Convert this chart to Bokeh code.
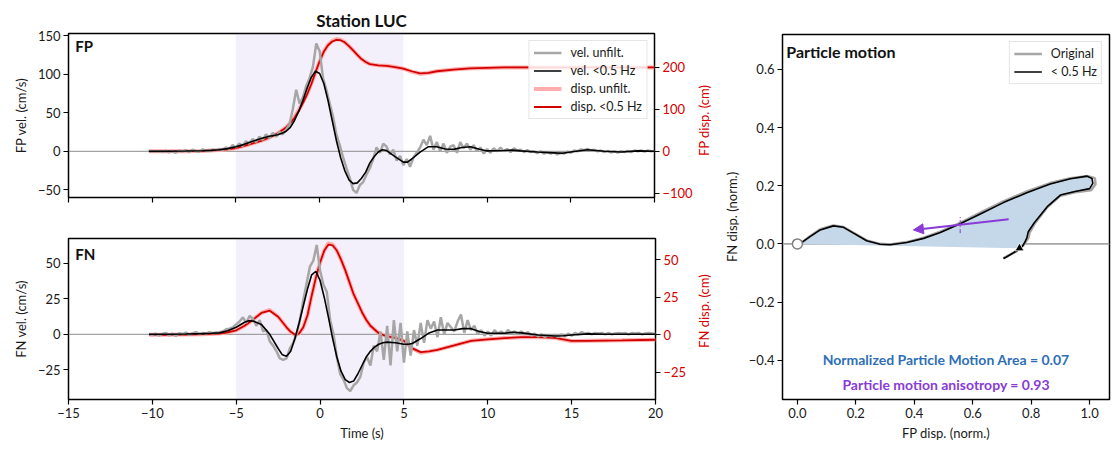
import numpy as np
from bokeh.plotting import figure
from bokeh.models import (Range1d, LinearAxis, FixedTicker, CustomJSTickFormatter,
                          BoxAnnotation, Span, Label, Legend, LegendItem, Arrow, NormalHead)
from bokeh.layouts import row, column
from bokeh.embed import file_html
from bokeh.resources import INLINE

FONT = "Lato"
RED = "#d40000"
PINK = "#ffadad"
GRAY = "#a6a6a6"
PURPLE = "#8a3bd6"
BLUE = "#2f6fb6"

# ---------------- data ----------------
# filtered velocity (<0.5 Hz)
vel_t = [-10.2, -9, -8, -7, -6.5, -6, -5.5, -5, -4.5, -4.25, -4, -3.5, -3, -2.5, -2.25, -2,
         -1.75, -1.5, -1.25, -1, -0.75, -0.5, -0.25, 0, 0.25, 0.5, 0.75, 1, 1.25, 1.5, 1.75, 2,
         2.25, 2.5, 2.75, 3, 3.25, 3.5, 3.75, 4, 4.5, 5, 5.25, 5.5, 6, 6.5, 7, 7.5, 8,
         8.5, 9, 9.5, 10, 11, 11.5, 12, 13, 14, 14.5, 15, 16, 17, 18, 19, 20]
fp_vel = [0, 0, 0.3, 0.8, 1.2, 2, 3.5, 6, 9, 11, 13, 16.5, 19.5, 21.5, 23.5, 26,
          31, 40, 52, 66, 82, 96, 104, 101, 88, 66, 40, 14, -8, -25, -37, -42,
          -41, -35, -27, -15, -7, -1, 2, 1, -7, -14, -14, -10, -1, 6, 6, 3, 2.5,
          5, 6, 3, 0.5, 1, 1.5, 0.5, -1, -2, -2.5, -1, 2, 0, -1, 0.5, 0]
fn_vel = [0, 0, 0.2, 0.5, 0.7, 1, 2.5, 5, 8.5, 9.5, 9.4, 7, 0, -10, -14.5, -15.5,
          -12, -3, 8, 20, 32, 42, 44.5, 38, 26, 12, -3, -16, -26, -32, -34, -33,
          -28, -22, -16, -12, -9, -7, -6, -5.5, -6, -7, -7, -6.5, -3, 1, 3, 3, 3,
          4, 4, 2, 0.7, 0.7, 1.4, 1, -0.5, -1.2, -1, -0.5, 0.3, 0, 0, 0, 0]

# unfiltered velocity, sampled every 0.2 s from -10.2 s to 20 s
raw_t0, raw_dt, raw_n = -10.2, 0.2, 152
fp_vel_raw = [0, 0.5, -0.5, 0.3, -1, 0.8, -1.5, 0.5, -2, 1, -0.5, 1.5, -1, 2, 0.5, -0.5, 2.5, 1, 0.5, 2, 1.5,
              3, 1.5, 5, 3, 8, 5, 10, 7, 13, 10,
              16, 12, 19, 15, 22, 17, 24, 19, 25, 22,
              28, 35, 55, 80, 62, 70, 85, 95, 110, 140,
              130, 95, 80, 62, 45, 22, 8, -8, -22, -35,
              -50, -54, -44, -40, -30, -22, -10, 5, -2, 10,
              6, -4, 2, -12, -6, -18, -10, -20, -8, -2,
              5, 15, 8, 20, 2, 12, 0, 10, -2, 6,
              8, -2, 12, 4, 10, 2, 8, 0, 5, -3,
              3, -2, 4, 0, 5, 0, 3, -1, 4, 1,
              2, -1, 1.5, -1, 0, -2.5, 0, -3, -1, -3,
              -1, -4, -2, -3, -0.5, -2, 1, 0, 2.5, 1.5,
              3, 1, 2, 0, 1, -1, 0.5, -1.5, 0, -1.5,
              0, -1, 0.5, -1, 1, 0, 1, -0.5, 1, 0, 0.5]
fn_vel_raw = [0, -0.5, 0.5, -1, 0.3, 1, -0.8, 0.5, -1.2, 0.8, 0, 1.2, -0.5, 0.8, 1.5, 0.2, 1, 0.5, 1.5, 0.8, 1.2,
              1.5, 2, 3.5, 4, 5, 7, 9, 12, 8, 13,
              11, 6, 10, 2, 3, -5, -8, -12, -17, -18,
              -17, -10, -6, 0, 10, 24, 36, 48, 52, 63,
              45, 35, 30, 10, 0, -16, -28, -32, -38, -40,
              -36, -34, -30, -20, -16, -22, -8, -12, 2, -18,
              6, -22, 10, -12, 8, -20, 2, -15, 3, -8,
              8, -6, 10, 4, 9, -2, 12, 0, 8, 5,
              2, 9, 14, 1, 10, 3, 6, 0, 3, -1,
              2, -1, 3, 0.5, 2, 0, 3, 1, 2, 0.5,
              2, 0, 1.5, -1, 0.5, -1.5, 0, -2, -0.5, -1.5,
              -0.5, -2, 0, -1.5, 0.5, -1, 1, 0, 1.5, 0.5,
              1, 0, 1, 0.5, 1, 0, 1, 0, 0.5, 1,
              0.5, 1, 0, 1, 0.5, 1, 0, 0.5, 1, 0.5, 0.5]

# displacement (cm)
disp_t = [-10.2, -9, -8, -7, -6, -5.5, -5, -4.5, -4, -3.5, -3, -2.5, -2, -1.75, -1.5, -1.25,
          -1, -0.75, -0.5, -0.25, 0, 0.25, 0.5, 0.75, 1, 1.25, 1.5, 1.75, 2, 2.25, 2.5, 2.75,
          3, 3.5, 4, 4.5, 5, 5.5, 6, 6.5, 7, 8, 9, 10, 11, 12, 13, 14, 15, 16, 18, 20]
fp_disp = [0, 0, 0.5, 1, 3, 5, 8, 13, 19, 25, 33, 43, 57, 67, 80, 96,
           115, 136, 160, 188, 215, 238, 253, 262, 266, 265, 260, 251, 241, 230, 220, 213,
           208, 205, 204, 201, 197, 191, 186, 187, 191, 195, 198, 199, 200, 200, 200, 200, 200, 200, 200, 200]
fp_disp_raw = [0, 0, 0.5, 1, 3, 5, 8, 13, 19, 25, 33, 43, 57, 68, 82, 98,
               117, 137, 161, 188, 215, 238, 254, 263, 268, 266, 260, 251, 241, 230, 220, 213,
               208, 205, 204, 201, 197, 190, 185, 187, 191, 195, 198, 199, 200, 200, 200, 200, 200, 200, 200, 200]
fn_disp = [0, 0, 0.2, 0.4, 0.8, 1.6, 3, 6, 10, 14.5, 16, 12, 5, 2, 0, 0.8,
           5, 13, 26, 38, 48, 56, 60, 59.5, 56, 50, 43, 35, 27, 21, 15, 10,
           6, 1, -1, -2, -4, -9, -11.5, -11, -10, -7, -4, -3, -2.2, -1.6, -1.5, -2, -4, -4, -3.7, -3.3]
fn_disp_raw = [0, 0, 0.2, 0.4, 0.8, 1.6, 3, 6, 10, 14.5, 16.5, 12, 5, 2, 0, 0.8,
               5, 13, 26, 38, 48, 56, 61, 60, 56, 50, 43, 35, 27, 21, 15, 10,
               6, 1, -1, -2, -4, -9, -12, -11, -10, -7, -4, -3, -2.2, -1.6, -1.5, -2, -4.3, -4, -3.7, -3.3]

strong_window = [-5, 5]

# particle motion (normalized displacement)
pm_x = [0, 0.015, 0.043, 0.078, 0.123, 0.158, 0.192, 0.237, 0.283, 0.317, 0.374, 0.432, 0.489,
        0.557, 0.626, 0.705, 0.785, 0.865, 0.934, 0.991, 1.008, 1.011, 1.0, 0.95, 0.90, 0.855,
        0.81, 0.79, 0.785, 0.778, 0.77, 0.75, 0.72, 0.705, 0.715, 0.74, 0.755, 0.76]
pm_y = [0, 0.005, 0.025, 0.048, 0.062, 0.057, 0.037, 0.011, -0.001, -0.003, 0.005, 0.019, 0.039,
        0.069, 0.103, 0.142, 0.176, 0.206, 0.224, 0.233, 0.225, 0.208, 0.19, 0.18, 0.168, 0.128,
        0.072, 0.042, 0.02, 0.005, -0.008, -0.025, -0.042, -0.05, -0.045, -0.03, -0.02, -0.015]
pm_raw_x = [0, 0.015, 0.043, 0.078, 0.123, 0.158, 0.192, 0.237, 0.283, 0.317, 0.374, 0.432, 0.489,
            0.557, 0.626, 0.705, 0.785, 0.865, 0.934, 0.995, 1.018, 1.02, 1.005, 0.95, 0.90, 0.855,
            0.812, 0.795, 0.79, 0.782, 0.772, 0.752, 0.722, 0.705, 0.715, 0.74, 0.755, 0.76]
pm_raw_y = [0, 0.004, 0.026, 0.05, 0.063, 0.058, 0.038, 0.012, 0.0, -0.002, 0.006, 0.021, 0.042,
            0.072, 0.107, 0.146, 0.18, 0.209, 0.226, 0.233, 0.226, 0.205, 0.185, 0.178, 0.166, 0.126,
            0.07, 0.04, 0.02, 0.008, -0.006, -0.024, -0.04, -0.05, -0.044, -0.03, -0.02, -0.015]
aniso_arrow_x = [0.723, 0.397]
aniso_arrow_y = [0.085, 0.048]
aniso_perp_x = [0.557, 0.557]
aniso_perp_y = [0.037, 0.096]
npma_value = 0.07
anisotropy_value = 0.93

raw_t = np.round(raw_t0 + raw_dt * np.arange(raw_n), 2)

MINUS_FMT = "return String(tick).replace('-', '\\u2212');"
MINUS_FMT1 = "return tick.toFixed(1).replace('-', '\\u2212');"


def style_fig(p):
    p.xgrid.visible = False
    p.ygrid.visible = False
    p.outline_line_color = "black"
    p.outline_line_width = 1.5
    p.outline_line_alpha = 1.0
    p.background_fill_color = "white"
    p.border_fill_color = "white"


def style_axis(ax, color="#1a1a1a"):
    ax.axis_line_color = None
    ax.major_tick_line_color = "black"
    ax.major_tick_line_width = 1.2
    ax.major_tick_out = 5
    ax.major_tick_in = 0
    ax.minor_tick_line_color = None
    ax.major_label_text_font = FONT
    ax.major_label_text_font_size = "13px"
    ax.major_label_text_color = color
    ax.major_label_standoff = 3
    ax.axis_label_text_font = FONT
    ax.axis_label_text_font_size = "13px"
    ax.axis_label_text_font_style = "normal"
    ax.axis_label_text_color = color
    ax.axis_label_standoff = 6


def side_label(text, height, center_from_top):
    """Narrow strip holding a right-hand axis title that reads bottom-to-top."""
    s = figure(width=25, height=height, x_range=Range1d(0, 25), y_range=Range1d(0, height),
               output_backend="svg", toolbar_location=None, x_axis_location=None,
               y_axis_location=None, min_border=0)
    s.xgrid.visible = False
    s.ygrid.visible = False
    s.outline_line_color = None
    s.background_fill_color = "white"
    s.border_fill_color = "white"
    s.add_layout(Label(x=8, y=height - center_from_top, text=text, angle=np.pi / 2,
                       text_font=FONT, text_font_size="13px", text_color=RED,
                       text_align="center", text_baseline="middle"))
    return s


def time_fig(width, height, yr, dr, mbt, mbb, vel_raw, vel_f, d_raw, d_f, comp,
             yticks, dticks, show_x, title=None, legend=False, label_y=0):
    p = figure(width=width, height=height, x_range=Range1d(-15, 20), y_range=Range1d(*yr),
               output_backend="svg", toolbar_location=None,
               min_border_left=68, min_border_right=40, min_border_top=mbt, min_border_bottom=mbb)
    style_fig(p)
    p.extra_y_ranges = {"disp": Range1d(*dr)}
    p.add_layout(BoxAnnotation(left=strong_window[0], right=strong_window[1],
                               fill_color="#9370db", fill_alpha=0.1, line_color=None,
                               level="underlay"))
    p.add_layout(Span(location=0, dimension="width", line_color="#8c8c8c", line_width=1,
                      level="underlay"))
    r_draw = p.line(disp_t, d_raw, y_range_name="disp", line_color=PINK, line_width=4)
    r_df = p.line(disp_t, d_f, y_range_name="disp", line_color=RED, line_width=1.8)
    r_vraw = p.line(raw_t, vel_raw, line_color=GRAY, line_width=2.5)
    r_vf = p.line(vel_t, vel_f, line_color="black", line_width=1.6)

    ax = p.xaxis[0]
    style_axis(ax)
    ax.ticker = FixedTicker(ticks=[-15, -10, -5, 0, 5, 10, 15, 20])
    if show_x:
        ax.formatter = CustomJSTickFormatter(code=MINUS_FMT)
        ax.axis_label = "Time (s)"
        ax.axis_label_standoff = 4
    else:
        ax.formatter = CustomJSTickFormatter(code="return '';")
        ax.major_label_text_font_size = "0px"

    ay = p.yaxis[0]
    style_axis(ay)
    ay.ticker = FixedTicker(ticks=yticks)
    ay.formatter = CustomJSTickFormatter(code=MINUS_FMT)
    ay.axis_label = f"{comp} vel. (cm/s)"

    ar = LinearAxis(y_range_name="disp")
    style_axis(ar, RED)
    ar.ticker = FixedTicker(ticks=dticks)
    ar.formatter = CustomJSTickFormatter(code=MINUS_FMT)
    p.add_layout(ar, "right")

    p.add_layout(Label(x=-14.6, y=label_y, text=comp, text_font=FONT, text_font_size="15px",
                       text_font_style="bold", text_baseline="top", text_align="left",
                       text_color="#111111"))
    if title:
        p.title.text = title
        p.title.align = "center"
        p.title.text_font = FONT
        p.title.text_font_size = "17px"
        p.title.text_font_style = "bold"
        p.title.text_color = "#111111"
        p.title.standoff = 5
    if legend:
        lg = Legend(items=[LegendItem(label="vel. unfilt.", renderers=[r_vraw]),
                           LegendItem(label="vel. <0.5 Hz", renderers=[r_vf]),
                           LegendItem(label="disp. unfilt.", renderers=[r_draw]),
                           LegendItem(label="disp. <0.5 Hz", renderers=[r_df])],
                    location="top_right", margin=7, padding=4, spacing=3,
                    label_height=15, glyph_height=15, glyph_width=28, label_standoff=9,
                    label_text_font=FONT, label_text_font_size="12.5px",
                    label_text_color="#1a1a1a",
                    border_line_color="#cccccc", border_line_width=1,
                    background_fill_color="white", background_fill_alpha=0.85)
        p.add_layout(lg, "center")
    return p


p1 = time_fig(695, 217, (-60, 153), (-110, 281), 33, 20, fp_vel_raw, fp_vel, fp_disp_raw, fp_disp,
              "FP", [-50, 0, 50, 100, 150], [-100, 0, 100, 200], False,
              title="Station LUC", legend=True, label_y=148)
p2 = time_fig(695, 226, (-46, 67.6), (-43, 64), 21, 43, fn_vel_raw, fn_vel, fn_disp_raw, fn_disp,
              "FN", [-25, 0, 25, 50], [-25, 0, 25, 50], True, label_y=63)
s1 = side_label("FP disp. (cm)", 217, 115)
s2 = side_label("FN disp. (cm)", 226, 102)

# ---------------- particle motion ----------------
p3 = figure(width=391, height=443, x_range=Range1d(-0.051, 1.068), y_range=Range1d(-0.535, 0.72),
            output_backend="svg", toolbar_location=None,
            min_border_left=62, min_border_right=2, min_border_top=34, min_border_bottom=43)
style_fig(p3)
p3.add_layout(Span(location=0, dimension="width", line_color=GRAY, line_width=1.6, level="underlay"))
p3.patch(pm_x, pm_y, fill_color="#c4d8ea", fill_alpha=1.0, line_color=None)
r_orig = p3.line(pm_raw_x, pm_raw_y, line_color=GRAY, line_width=2.6)
r_filt = p3.line(pm_x, pm_y, line_color="black", line_width=1.6)
p3.scatter([pm_x[0]], [pm_y[0]], marker="circle", size=10, fill_color="white",
           line_color="#808080", line_width=1.5)
p3.scatter([pm_x[-1]], [pm_y[-1]], marker="triangle", size=9, fill_color="black",
           line_color="white", line_width=0.8)
p3.line(aniso_perp_x, aniso_perp_y, line_color=PURPLE, line_width=1, line_dash="4 2 1 2")
p3.add_layout(Arrow(end=NormalHead(size=10, fill_color=PURPLE, line_color=PURPLE),
                    x_start=aniso_arrow_x[0], y_start=aniso_arrow_y[0],
                    x_end=aniso_arrow_x[1], y_end=aniso_arrow_y[1],
                    line_color=PURPLE, line_width=2))

for ax in (p3.xaxis[0], p3.yaxis[0]):
    style_axis(ax)
    ax.formatter = CustomJSTickFormatter(code=MINUS_FMT1)
p3.xaxis[0].ticker = FixedTicker(ticks=[0, 0.2, 0.4, 0.6, 0.8, 1.0])
p3.yaxis[0].ticker = FixedTicker(ticks=[-0.4, -0.2, 0, 0.2, 0.4, 0.6])
p3.xaxis[0].axis_label = "FP disp. (norm.)"
p3.xaxis[0].axis_label_standoff = 4
p3.yaxis[0].axis_label = "FN disp. (norm.)"

p3.add_layout(Label(x=-0.038, y=0.695, text="Particle motion", text_font=FONT,
                    text_font_size="16px", text_font_style="bold", text_baseline="top",
                    text_color="#111111"))
p3.add_layout(Label(x=0.509, y=-0.398, text=f"Normalized Particle Motion Area = {npma_value:.2f}",
                    text_font=FONT, text_font_size="14px", text_font_style="bold",
                    text_align="center", text_baseline="middle", text_color=BLUE))
p3.add_layout(Label(x=0.509, y=-0.484, text=f"Particle motion anisotropy = {anisotropy_value:.2f}",
                    text_font=FONT, text_font_size="14px", text_font_style="bold",
                    text_align="center", text_baseline="middle", text_color=PURPLE))
lg3 = Legend(items=[LegendItem(label="Original", renderers=[r_orig]),
                    LegendItem(label="< 0.5 Hz", renderers=[r_filt])],
             location="top_right", margin=7, padding=4, spacing=3,
             label_height=15, glyph_height=15, glyph_width=28, label_standoff=9,
             label_text_font=FONT, label_text_font_size="12.5px", label_text_color="#1a1a1a",
             border_line_color="#cccccc", border_line_width=1,
             background_fill_color="white", background_fill_alpha=0.85)
p3.add_layout(lg3, "center")

layout = row(column(row(p1, s1), row(p2, s2)), p3)
with open("out.html", "w", encoding="utf-8") as f:
    f.write(file_html(layout, INLINE))
